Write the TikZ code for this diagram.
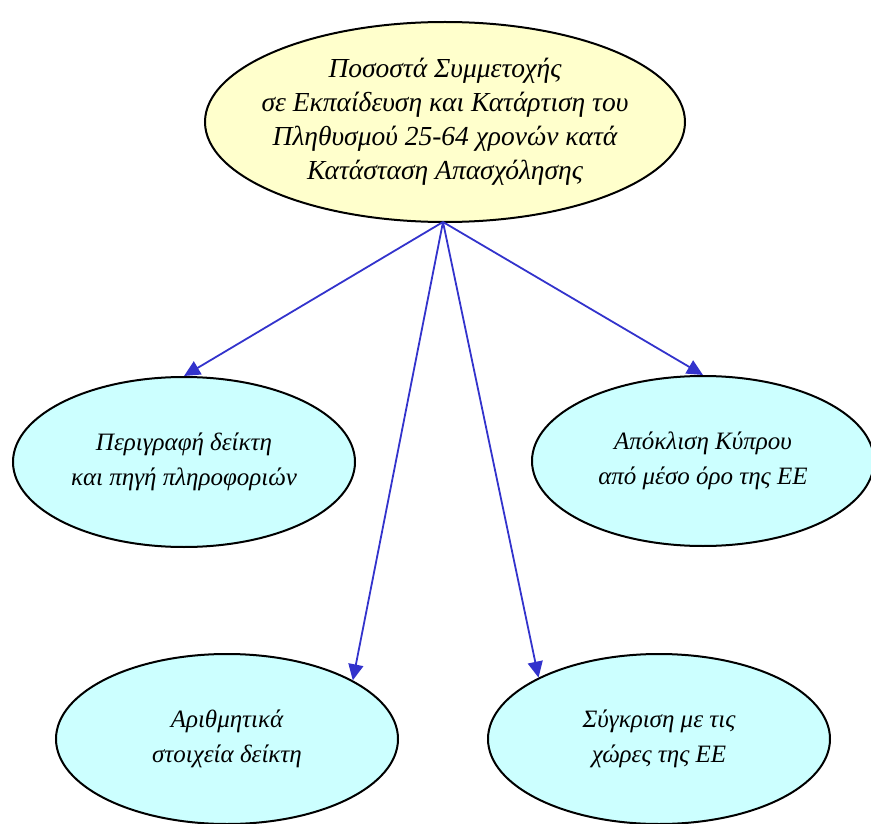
\documentclass[tikz,border=0pt]{standalone}
\usepackage{fontspec}
\setmainfont{Liberation Serif}
\usetikzlibrary{arrows.meta,shapes.geometric}
\definecolor{topfill}{HTML}{FFFFCC}
\definecolor{subfill}{HTML}{CCFFFF}
\definecolor{arrowblue}{HTML}{3333CC}
\begin{document}
\begin{tikzpicture}[x=1pt,y=-1pt,
  topbox/.style={ellipse,draw=black,line width=2pt,fill=topfill,minimum width=480pt,minimum height=200pt,inner sep=-40pt,align=center,font=\fontsize{27.5}{34}\selectfont\itshape},
  subbox/.style={ellipse,draw=black,line width=2pt,fill=subfill,minimum width=342pt,minimum height=170pt,inner sep=-30pt,align=center,font=\fontsize{25}{35}\selectfont\itshape},
  link/.style={draw=arrowblue,line width=1.8pt,-{Triangle[length=16pt,width=15pt]}}]
\useasboundingbox (0,0) rectangle (871,824);
\node[topbox] (top) at (445,122) {Ποσοστά Συμμετοχής\\σε Εκπαίδευση και Κατάρτιση του\\Πληθυσμού 25-64 χρονών κατά\\Κατάσταση Απασχόλησης};
\node[subbox] (desc) at (184,462) {Περιγραφή δείκτη\\και πηγή πληροφοριών};
\node[subbox] (dev) at (703,461) {Απόκλιση Κύπρου\\από μέσο όρο της ΕΕ};
\node[subbox] (num) at (227,739) {Αριθμητικά\\στοιχεία δείκτη};
\node[subbox] (cmp) at (659,739) {Σύγκριση με τις\\χώρες της ΕΕ};
\coordinate (src) at (443,222);
\draw[link] (src) -- (desc.north);
\draw[link] (src) -- (dev.north);
\draw[link] (src) -- (num.25.6);
\draw[link] (src) -- (cmp.153.8);
\end{tikzpicture}
\end{document}
